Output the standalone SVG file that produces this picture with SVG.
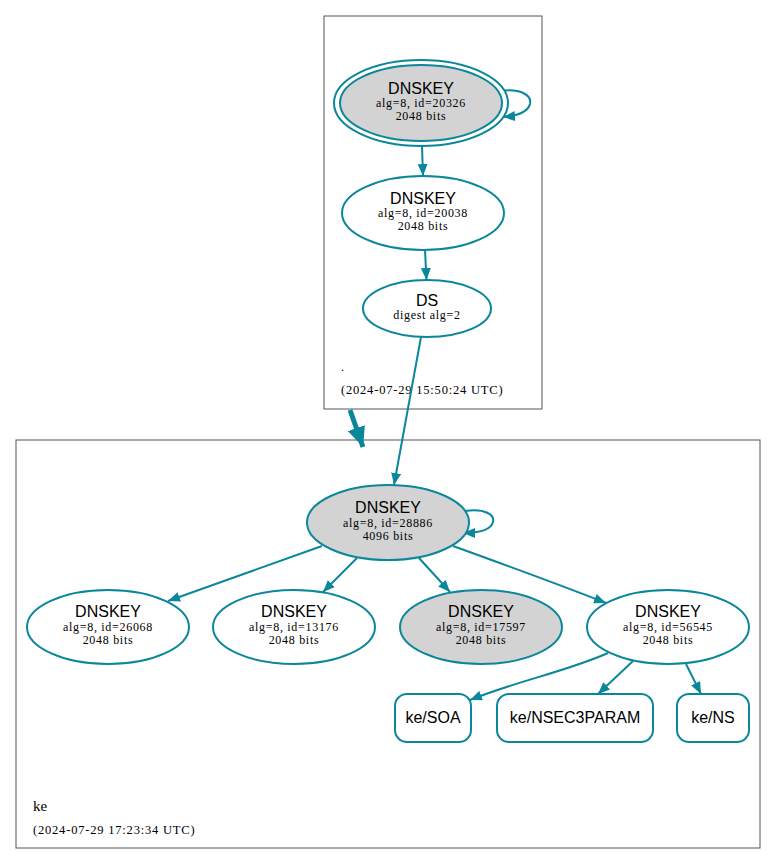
<svg xmlns="http://www.w3.org/2000/svg" width="776" height="865" viewBox="0 0 776 865">
<defs>
<marker id="ah" markerWidth="12" markerHeight="10" refX="12" refY="5" orient="auto" markerUnits="userSpaceOnUse"><path d="M0,0 L12,5 L0,10 z" fill="#0a879a"/></marker>
<marker id="ahb" markerWidth="20" markerHeight="18" refX="20" refY="9" orient="auto" markerUnits="userSpaceOnUse"><path d="M0,0 L20,9 L0,18 z" fill="#0a879a"/></marker>
</defs>
<style>
.cl{fill:none;stroke:#555;stroke-width:1}
.n{fill:#fff;stroke:#0a879a;stroke-width:2}
.g{fill:#d3d3d3;stroke:#0a879a;stroke-width:2}
.e{fill:none;stroke:#0a879a;stroke-width:2;marker-end:url(#ah)}
.t{font-family:"Liberation Sans",Arial,sans-serif;font-size:16px;fill:#000;text-anchor:middle}
.s{font-family:"Liberation Serif","Times New Roman",serif;font-size:12px;letter-spacing:0.7px;fill:#000;text-anchor:middle}
.l{font-family:"Liberation Serif","Times New Roman",serif;font-size:12.5px;letter-spacing:0.8px;fill:#000}
</style>
<rect width="776" height="865" fill="#fff"/>
<g id="cluster-root">
<rect class="cl" x="324" y="16" width="218" height="393"/>
<text class="l" x="341" y="371">.</text>
<text class="l" x="341" y="394">(2024-07-29 15:50:24 UTC)</text>
</g>
<g id="cluster-ke">
<rect class="cl" x="16" y="440" width="744" height="408"/>
<text class="l" x="33" y="811" style="font-size:15px;letter-spacing:0">ke</text>
<text class="l" x="33" y="834">(2024-07-29 17:23:34 UTC)</text>
</g>
<g id="edges">
<path class="e" d="M500,91 C520,88 532,95 530,104 C528,112 516,116 503,117"/>
<path class="e" d="M422,146 L423,176"/>
<path class="e" d="M425,250 L426.5,280"/>
<path class="e" d="M421,337 L394,485"/>
<path d="M350,410 L363,447" fill="none" stroke="#0a879a" stroke-width="5" marker-end="url(#ahb)"/>
<path class="e" d="M465,511 C485,508 495,515 493,522 C491,530 478,533 463,533"/>
<path class="e" d="M322,546 C270,565 220,582 168,601"/>
<path class="e" d="M357,558 L323,592"/>
<path class="e" d="M419,558 L450,592"/>
<path class="e" d="M453,546 C500,563 555,583 606,603"/>
<path class="e" d="M608,653 C565,672 520,680 470,700"/>
<path class="e" d="M633,661 L598,694"/>
<path class="e" d="M686,664 L701,694"/>
</g>
<g id="dnskey-20326">
<ellipse class="n" cx="421" cy="103" rx="87" ry="43"/>
<ellipse class="g" cx="421" cy="103" rx="81" ry="38"/>
<text class="t" x="421" y="94">DNSKEY</text>
<text class="s" x="421" y="107">alg=8, id=20326</text>
<text class="s" x="421" y="120">2048 bits</text>
</g>
<g id="dnskey-20038">
<ellipse class="n" cx="423" cy="213" rx="81" ry="37"/>
<text class="t" x="423" y="204">DNSKEY</text>
<text class="s" x="423" y="217">alg=8, id=20038</text>
<text class="s" x="423" y="230">2048 bits</text>
</g>
<g id="ds">
<ellipse class="n" cx="427" cy="308.5" rx="64" ry="28.5"/>
<text class="t" x="427" y="306">DS</text>
<text class="s" x="427" y="319">digest alg=2</text>
</g>
<g id="dnskey-28886">
<ellipse class="g" cx="388" cy="522.5" rx="81" ry="37.5"/>
<text class="t" x="388" y="513">DNSKEY</text>
<text class="s" x="388" y="527">alg=8, id=28886</text>
<text class="s" x="388" y="540">4096 bits</text>
</g>
<g id="dnskey-26068">
<ellipse class="n" cx="108" cy="627" rx="81" ry="37"/>
<text class="t" x="108" y="617">DNSKEY</text>
<text class="s" x="108" y="631">alg=8, id=26068</text>
<text class="s" x="108" y="644">2048 bits</text>
</g>
<g id="dnskey-13176">
<ellipse class="n" cx="294" cy="627" rx="81" ry="37"/>
<text class="t" x="294" y="617">DNSKEY</text>
<text class="s" x="294" y="631">alg=8, id=13176</text>
<text class="s" x="294" y="644">2048 bits</text>
</g>
<g id="dnskey-17597">
<ellipse class="g" cx="481" cy="627" rx="81" ry="37"/>
<text class="t" x="481" y="617">DNSKEY</text>
<text class="s" x="481" y="631">alg=8, id=17597</text>
<text class="s" x="481" y="644">2048 bits</text>
</g>
<g id="dnskey-56545">
<ellipse class="n" cx="668" cy="627" rx="81" ry="37"/>
<text class="t" x="668" y="617">DNSKEY</text>
<text class="s" x="668" y="631">alg=8, id=56545</text>
<text class="s" x="668" y="644">2048 bits</text>
</g>
<g id="ke-soa">
<rect class="n" x="395" y="694" width="76" height="48" rx="12"/>
<text class="t" x="433" y="723">ke/SOA</text>
</g>
<g id="ke-nsec3param">
<rect class="n" x="497" y="694" width="156" height="48" rx="12"/>
<text class="t" x="575" y="723">ke/NSEC3PARAM</text>
</g>
<g id="ke-ns">
<rect class="n" x="677" y="694" width="72" height="48" rx="12"/>
<text class="t" x="713" y="723">ke/NS</text>
</g>
</svg>
